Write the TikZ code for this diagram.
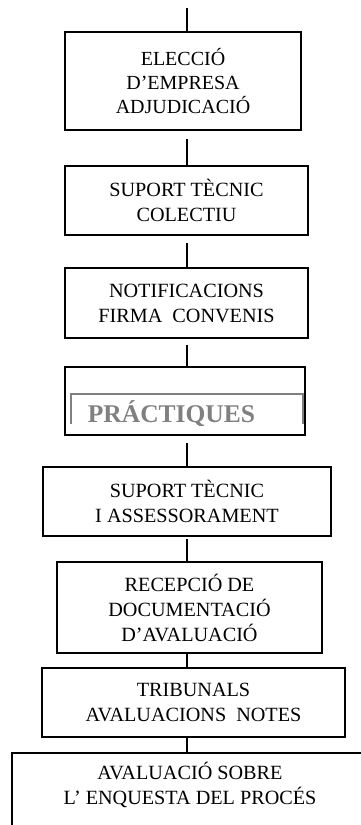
\documentclass[tikz,border=0pt]{standalone}
\usepackage{fontspec}
\setmainfont{Liberation Serif}
\begin{document}
\begin{tikzpicture}[x=1pt,y=-1pt,
  stepbox/.style={draw, line width=1.3pt, align=center, inner sep=0pt,
    font=\fontsize{20.2}{25}\selectfont},
  conn/.style={line width=1.3pt},
  txt/.style={align=center, inner sep=0pt, font=\fontsize{20.2}{25}\selectfont}]
\useasboundingbox (0,0) rectangle (360,825);
\node[stepbox, minimum width=236pt, minimum height=98pt,
  font=\fontsize{20}{24}\selectfont] (b1) at (183,81)
  {ELECCIÓ\\D’EMPRESA\\ADJUDICACIÓ};
\node[stepbox, minimum width=243pt, minimum height=69pt] (b2) at (186.5,200.5)
  {SUPORT TÈCNIC\\COLECTIU};
\node[stepbox, minimum width=243pt, minimum height=70pt] (b3) at (186.5,303)
  {NOTIFICACIONS\\FIRMA~ CONVENIS};
\node[stepbox, minimum width=240pt, minimum height=68pt] (b4) at (185,401) {};
\node[stepbox, minimum width=288pt, minimum height=69pt] (b5) at (187,501.5)
  {SUPORT TÈCNIC\\I ASSESSORAMENT};
\node[stepbox, minimum width=265pt, minimum height=91pt] (b6) at (189.5,607.5)
  {RECEPCIÓ DE\\DOCUMENTACIÓ\\D’AVALUACIÓ};
\node[stepbox, minimum width=303pt, minimum height=69pt] (b7) at (193.5,702.5)
  {TRIBUNALS\\AVALUACIONS~ NOTES};
% practiques inner frame and label
\node[anchor=base, inner sep=0pt, text=gray, font=\fontsize{25.5}{30}\selectfont\bfseries]
  (prac) at (171.5,422) {PRÁCTIQUES};
\draw[gray, line width=1.4pt] (71,424) -- (71,394) -- (303,394) -- (303,424);
% bottom box (cut off)
\coordinate (b8top) at (187,753);
\draw[line width=1.3pt] (12,830) -- (12,753) -- (370,753);
\node[txt] (b8) at (190,785) {AVALUACIÓ SOBRE\\L’ ENQUESTA DEL PROCÉS};
% connectors
\coordinate (c0) at (187,8);
\coordinate (c1) at (187,139);
\coordinate (c2) at (187,243);
\coordinate (c3) at (187,345);
\coordinate (c4) at (187,443);
\coordinate (c5) at (187,539);
\draw[conn] (c0) -- (c0 |- b1.north);
\draw[conn] (c1) -- (c1 |- b2.north);
\draw[conn] (c2) -- (c2 |- b3.north);
\draw[conn] (c3) -- (c3 |- b4.north);
\draw[conn] (c4) -- (c4 |- b5.north);
\draw[conn] (c5) -- (c5 |- b6.north);
\draw[conn] (b6.south -| c5) -- (c5 |- b7.north);
\draw[conn] (b7.south -| c5) -- (b8top);
\end{tikzpicture}
\end{document}
